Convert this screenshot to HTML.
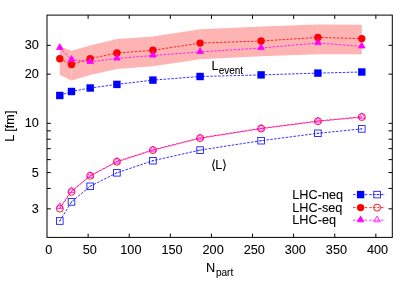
<!DOCTYPE html><html><head><meta charset="utf-8"><style>html,body{margin:0;padding:0;background:#fff}svg{display:block;will-change:transform}text{font-family:"Liberation Sans",sans-serif;font-size:12.7px;fill:#000;stroke:#000;stroke-width:0.08px}.sym{font-family:"DejaVu Sans","Liberation Sans",sans-serif}</style></head><body>
<svg width="415" height="291" viewBox="0 0 415 291">
<rect width="415" height="291" fill="#fff"/>
<polygon points="59.8,46.4 71.5,50.7 90.2,45.6 116.9,39.0 152.9,36.6 200.1,29.2 261.1,26.5 317.9,24.4 361.8,24.8 361.8,54.3 317.9,54.3 261.1,56.2 200.1,59.3 152.9,66.2 116.9,69.1 90.2,75.1 71.5,80.5 59.8,75.0" fill="#ffb4b4"/>
<line x1="71.5" y1="51.2" x2="71.5" y2="80.0" stroke="#ffc6c6" stroke-width="0.7"/>
<line x1="90.2" y1="46.1" x2="90.2" y2="74.6" stroke="#ffc6c6" stroke-width="0.7"/>
<line x1="116.9" y1="39.5" x2="116.9" y2="68.6" stroke="#ffc6c6" stroke-width="0.7"/>
<line x1="152.9" y1="37.1" x2="152.9" y2="65.7" stroke="#ffc6c6" stroke-width="0.7"/>
<line x1="200.1" y1="29.7" x2="200.1" y2="58.8" stroke="#ffc6c6" stroke-width="0.7"/>
<line x1="261.1" y1="27.0" x2="261.1" y2="55.7" stroke="#ffc6c6" stroke-width="0.7"/>
<line x1="317.9" y1="24.9" x2="317.9" y2="53.8" stroke="#ffc6c6" stroke-width="0.7"/>
<polyline points="59.8,95.5 71.5,91.5 90.2,88.0 116.9,84.4 152.9,80.1 200.1,76.5 261.1,74.9 317.9,73.1 361.8,72.0" fill="none" stroke="#0000ff" stroke-width="0.8" stroke-dasharray="2.5 1.4" stroke-dashoffset="0"/>
<polyline points="59.8,58.7 71.5,64.6 90.2,58.6 116.9,53.0 152.9,50.3 200.1,43.1 261.1,41.0 317.9,37.4 361.8,38.6" fill="none" stroke="#ff0000" stroke-width="0.8" stroke-dasharray="2.5 1.4" stroke-dashoffset="0"/>
<polyline points="59.8,47.9 71.5,59.6 90.2,61.9 116.9,58.5 152.9,55.5 200.1,51.9 261.1,48.0 317.9,43.0 361.8,46.4" fill="none" stroke="#ff00ff" stroke-width="0.8" stroke-dasharray="2.5 1.4" stroke-dashoffset="0"/>
<polyline points="59.8,221.0 71.5,201.9 90.2,186.3 116.9,172.8 152.9,160.7 200.1,150.1 261.1,140.7 317.9,133.3 361.8,128.9" fill="none" stroke="#0000ff" stroke-width="0.8" stroke-dasharray="2.5 1.4" stroke-dashoffset="0"/>
<polyline points="59.8,208.4 71.5,191.7 90.2,175.7 116.9,161.5 152.9,149.9 200.1,137.9 261.1,128.3 317.9,121.0 361.8,116.8" fill="none" stroke="#ff0000" stroke-width="0.85" stroke-dasharray="2.4 1.5" stroke-dashoffset="0"/>
<polyline points="59.8,207.0 71.5,191.1 90.2,176.0 116.9,161.9 152.9,150.3 200.1,138.3 261.1,128.7 317.9,121.4 361.8,117.2" fill="none" stroke="#ff00ff" stroke-width="0.85" stroke-dasharray="2.4 1.5" stroke-dashoffset="3.2572234774275417"/>
<rect x="56.10" y="91.80" width="7.40" height="7.40" fill="#0000ff"/>
<rect x="67.80" y="87.80" width="7.40" height="7.40" fill="#0000ff"/>
<rect x="86.50" y="84.30" width="7.40" height="7.40" fill="#0000ff"/>
<rect x="113.20" y="80.70" width="7.40" height="7.40" fill="#0000ff"/>
<rect x="149.20" y="76.40" width="7.40" height="7.40" fill="#0000ff"/>
<rect x="196.40" y="72.80" width="7.40" height="7.40" fill="#0000ff"/>
<rect x="257.40" y="71.20" width="7.40" height="7.40" fill="#0000ff"/>
<rect x="314.20" y="69.40" width="7.40" height="7.40" fill="#0000ff"/>
<rect x="358.10" y="68.30" width="7.40" height="7.40" fill="#0000ff"/>
<circle cx="59.80" cy="58.70" r="3.70" fill="#ff0000"/>
<circle cx="71.50" cy="64.60" r="3.70" fill="#ff0000"/>
<circle cx="90.20" cy="58.60" r="3.70" fill="#ff0000"/>
<circle cx="116.90" cy="53.00" r="3.70" fill="#ff0000"/>
<circle cx="152.90" cy="50.30" r="3.70" fill="#ff0000"/>
<circle cx="200.10" cy="43.10" r="3.70" fill="#ff0000"/>
<circle cx="261.10" cy="41.00" r="3.70" fill="#ff0000"/>
<circle cx="317.90" cy="37.40" r="3.70" fill="#ff0000"/>
<circle cx="361.80" cy="38.60" r="3.70" fill="#ff0000"/>
<polygon points="59.80,43.73 56.50,49.50 63.10,49.50" fill="#ff00ff" stroke="#ff00ff" stroke-width="0.8" stroke-linejoin="miter"/>
<polygon points="71.50,55.52 68.20,61.30 74.80,61.30" fill="#ff00ff" stroke="#ff00ff" stroke-width="0.8" stroke-linejoin="miter"/>
<polygon points="90.20,57.73 86.90,63.50 93.50,63.50" fill="#ff00ff" stroke="#ff00ff" stroke-width="0.8" stroke-linejoin="miter"/>
<polygon points="116.90,54.33 113.60,60.10 120.20,60.10" fill="#ff00ff" stroke="#ff00ff" stroke-width="0.8" stroke-linejoin="miter"/>
<polygon points="152.90,51.33 149.60,57.10 156.20,57.10" fill="#ff00ff" stroke="#ff00ff" stroke-width="0.8" stroke-linejoin="miter"/>
<polygon points="200.10,47.73 196.80,53.50 203.40,53.50" fill="#ff00ff" stroke="#ff00ff" stroke-width="0.8" stroke-linejoin="miter"/>
<polygon points="261.10,43.83 257.80,49.60 264.40,49.60" fill="#ff00ff" stroke="#ff00ff" stroke-width="0.8" stroke-linejoin="miter"/>
<polygon points="317.90,38.83 314.60,44.60 321.20,44.60" fill="#ff00ff" stroke="#ff00ff" stroke-width="0.8" stroke-linejoin="miter"/>
<polygon points="361.80,42.23 358.50,48.00 365.10,48.00" fill="#ff00ff" stroke="#ff00ff" stroke-width="0.8" stroke-linejoin="miter"/>
<rect x="56.50" y="217.70" width="6.60" height="6.60" fill="none" stroke="#0000ff" stroke-width="0.8"/>
<rect x="59.30" y="220.50" width="1" height="1" fill="#0000ff"/>
<rect x="68.20" y="198.60" width="6.60" height="6.60" fill="none" stroke="#0000ff" stroke-width="0.8"/>
<rect x="71.00" y="201.40" width="1" height="1" fill="#0000ff"/>
<rect x="86.90" y="183.00" width="6.60" height="6.60" fill="none" stroke="#0000ff" stroke-width="0.8"/>
<rect x="89.70" y="185.80" width="1" height="1" fill="#0000ff"/>
<rect x="113.60" y="169.50" width="6.60" height="6.60" fill="none" stroke="#0000ff" stroke-width="0.8"/>
<rect x="116.40" y="172.30" width="1" height="1" fill="#0000ff"/>
<rect x="149.60" y="157.40" width="6.60" height="6.60" fill="none" stroke="#0000ff" stroke-width="0.8"/>
<rect x="152.40" y="160.20" width="1" height="1" fill="#0000ff"/>
<rect x="196.80" y="146.80" width="6.60" height="6.60" fill="none" stroke="#0000ff" stroke-width="0.8"/>
<rect x="199.60" y="149.60" width="1" height="1" fill="#0000ff"/>
<rect x="257.80" y="137.40" width="6.60" height="6.60" fill="none" stroke="#0000ff" stroke-width="0.8"/>
<rect x="260.60" y="140.20" width="1" height="1" fill="#0000ff"/>
<rect x="314.60" y="130.00" width="6.60" height="6.60" fill="none" stroke="#0000ff" stroke-width="0.8"/>
<rect x="317.40" y="132.80" width="1" height="1" fill="#0000ff"/>
<rect x="358.50" y="125.60" width="6.60" height="6.60" fill="none" stroke="#0000ff" stroke-width="0.8"/>
<rect x="361.30" y="128.40" width="1" height="1" fill="#0000ff"/>
<circle cx="59.80" cy="208.60" r="3.50" fill="none" stroke="#ff0000" stroke-width="0.9"/>
<circle cx="71.50" cy="191.80" r="3.50" fill="none" stroke="#ff0000" stroke-width="0.9"/>
<circle cx="90.20" cy="175.80" r="3.50" fill="none" stroke="#ff0000" stroke-width="0.9"/>
<circle cx="116.90" cy="161.70" r="3.50" fill="none" stroke="#ff0000" stroke-width="0.9"/>
<circle cx="152.90" cy="150.10" r="3.50" fill="none" stroke="#ff0000" stroke-width="0.9"/>
<circle cx="200.10" cy="138.10" r="3.50" fill="none" stroke="#ff0000" stroke-width="0.9"/>
<circle cx="261.10" cy="128.50" r="3.50" fill="none" stroke="#ff0000" stroke-width="0.9"/>
<circle cx="317.90" cy="121.20" r="3.50" fill="none" stroke="#ff0000" stroke-width="0.9"/>
<circle cx="361.80" cy="117.00" r="3.50" fill="none" stroke="#ff0000" stroke-width="0.9"/>
<polygon points="59.80,202.68 56.50,208.45 63.10,208.45" fill="none" stroke="#ff00ff" stroke-width="0.8"/>
<rect x="59.30" y="206.30" width="1" height="1" fill="#ff00ff"/>
<polygon points="71.50,186.78 68.20,192.55 74.80,192.55" fill="none" stroke="#ff00ff" stroke-width="0.8"/>
<rect x="71.00" y="190.40" width="1" height="1" fill="#ff00ff"/>
<polygon points="90.20,171.68 86.90,177.45 93.50,177.45" fill="none" stroke="#ff00ff" stroke-width="0.8"/>
<rect x="89.70" y="175.30" width="1" height="1" fill="#ff00ff"/>
<polygon points="116.90,157.57 113.60,163.35 120.20,163.35" fill="none" stroke="#ff00ff" stroke-width="0.8"/>
<rect x="116.40" y="161.20" width="1" height="1" fill="#ff00ff"/>
<polygon points="152.90,145.97 149.60,151.75 156.20,151.75" fill="none" stroke="#ff00ff" stroke-width="0.8"/>
<rect x="152.40" y="149.60" width="1" height="1" fill="#ff00ff"/>
<polygon points="200.10,133.97 196.80,139.75 203.40,139.75" fill="none" stroke="#ff00ff" stroke-width="0.8"/>
<rect x="199.60" y="137.60" width="1" height="1" fill="#ff00ff"/>
<polygon points="261.10,124.38 257.80,130.15 264.40,130.15" fill="none" stroke="#ff00ff" stroke-width="0.8"/>
<rect x="260.60" y="128.00" width="1" height="1" fill="#ff00ff"/>
<polygon points="317.90,117.08 314.60,122.85 321.20,122.85" fill="none" stroke="#ff00ff" stroke-width="0.8"/>
<rect x="317.40" y="120.70" width="1" height="1" fill="#ff00ff"/>
<polygon points="361.80,112.88 358.50,118.65 365.10,118.65" fill="none" stroke="#ff00ff" stroke-width="0.8"/>
<rect x="361.30" y="116.50" width="1" height="1" fill="#ff00ff"/>
<line x1="353" y1="194.6" x2="368.5" y2="194.6" stroke="#0000ff" stroke-width="0.8" stroke-dasharray="2.5 1.4"/>
<line x1="369.3" y1="194.6" x2="385.2" y2="194.6" stroke="#0000ff" stroke-width="0.8" stroke-dasharray="2.5 1.4"/>
<rect x="356.90" y="190.90" width="7.40" height="7.40" fill="#0000ff"/>
<rect x="373.80" y="191.30" width="6.60" height="6.60" fill="none" stroke="#0000ff" stroke-width="0.8"/>
<rect x="376.60" y="194.10" width="1" height="1" fill="#0000ff"/>
<line x1="353" y1="207.6" x2="368.5" y2="207.6" stroke="#ff0000" stroke-width="0.8" stroke-dasharray="2.5 1.4"/>
<line x1="369.3" y1="207.6" x2="385.2" y2="207.6" stroke="#ff0000" stroke-width="0.8" stroke-dasharray="2.5 1.4"/>
<circle cx="360.60" cy="207.60" r="3.70" fill="#ff0000"/>
<circle cx="377.10" cy="207.60" r="3.50" fill="none" stroke="#ff0000" stroke-width="0.9"/>
<line x1="353" y1="220.2" x2="368.5" y2="220.2" stroke="#ff00ff" stroke-width="0.8" stroke-dasharray="2.5 1.4"/>
<line x1="369.3" y1="220.2" x2="385.2" y2="220.2" stroke="#ff00ff" stroke-width="0.8" stroke-dasharray="2.5 1.4"/>
<polygon points="360.60,216.07 357.30,221.85 363.90,221.85" fill="#ff00ff" stroke="#ff00ff" stroke-width="0.8" stroke-linejoin="miter"/>
<polygon points="377.10,216.07 373.80,221.85 380.40,221.85" fill="none" stroke="#ff00ff" stroke-width="0.8"/>
<rect x="376.60" y="219.70" width="1" height="1" fill="#ff00ff"/>
<text x="292.3" y="199.1">LHC-neq</text>
<text x="292.3" y="211.7">LHC-seq</text>
<text x="292.3" y="224.2">LHC-eq</text>
<text x="48.70" y="254.4" text-anchor="middle">0</text>
<line x1="88.11" y1="237.4" x2="88.11" y2="233.6" stroke="#000" stroke-width="1"/>
<line x1="88.11" y1="15.1" x2="88.11" y2="18.9" stroke="#000" stroke-width="1"/>
<text x="89.81" y="254.4" text-anchor="middle">50</text>
<line x1="129.21" y1="237.4" x2="129.21" y2="233.6" stroke="#000" stroke-width="1"/>
<line x1="129.21" y1="15.1" x2="129.21" y2="18.9" stroke="#000" stroke-width="1"/>
<text x="130.91" y="254.4" text-anchor="middle">100</text>
<line x1="170.32" y1="237.4" x2="170.32" y2="233.6" stroke="#000" stroke-width="1"/>
<line x1="170.32" y1="15.1" x2="170.32" y2="18.9" stroke="#000" stroke-width="1"/>
<text x="172.02" y="254.4" text-anchor="middle">150</text>
<line x1="211.43" y1="237.4" x2="211.43" y2="233.6" stroke="#000" stroke-width="1"/>
<line x1="211.43" y1="15.1" x2="211.43" y2="18.9" stroke="#000" stroke-width="1"/>
<text x="213.13" y="254.4" text-anchor="middle">200</text>
<line x1="252.54" y1="237.4" x2="252.54" y2="233.6" stroke="#000" stroke-width="1"/>
<line x1="252.54" y1="15.1" x2="252.54" y2="18.9" stroke="#000" stroke-width="1"/>
<text x="254.24" y="254.4" text-anchor="middle">250</text>
<line x1="293.64" y1="237.4" x2="293.64" y2="233.6" stroke="#000" stroke-width="1"/>
<line x1="293.64" y1="15.1" x2="293.64" y2="18.9" stroke="#000" stroke-width="1"/>
<text x="295.34" y="254.4" text-anchor="middle">300</text>
<line x1="334.75" y1="237.4" x2="334.75" y2="233.6" stroke="#000" stroke-width="1"/>
<line x1="334.75" y1="15.1" x2="334.75" y2="18.9" stroke="#000" stroke-width="1"/>
<text x="336.45" y="254.4" text-anchor="middle">350</text>
<line x1="375.86" y1="237.4" x2="375.86" y2="233.6" stroke="#000" stroke-width="1"/>
<line x1="375.86" y1="15.1" x2="375.86" y2="18.9" stroke="#000" stroke-width="1"/>
<text x="377.56" y="254.4" text-anchor="middle">400</text>
<line x1="47.0" y1="208.84" x2="50.8" y2="208.84" stroke="#000" stroke-width="1"/>
<line x1="392.3" y1="208.84" x2="388.5" y2="208.84" stroke="#000" stroke-width="1"/>
<text x="38.9" y="212.94" text-anchor="end">3</text>
<line x1="47.0" y1="188.41" x2="50.8" y2="188.41" stroke="#000" stroke-width="1"/>
<line x1="392.3" y1="188.41" x2="388.5" y2="188.41" stroke="#000" stroke-width="1"/>
<line x1="47.0" y1="172.57" x2="50.8" y2="172.57" stroke="#000" stroke-width="1"/>
<line x1="392.3" y1="172.57" x2="388.5" y2="172.57" stroke="#000" stroke-width="1"/>
<text x="38.9" y="176.67" text-anchor="end">5</text>
<line x1="47.0" y1="159.62" x2="50.8" y2="159.62" stroke="#000" stroke-width="1"/>
<line x1="392.3" y1="159.62" x2="388.5" y2="159.62" stroke="#000" stroke-width="1"/>
<line x1="47.0" y1="148.68" x2="50.8" y2="148.68" stroke="#000" stroke-width="1"/>
<line x1="392.3" y1="148.68" x2="388.5" y2="148.68" stroke="#000" stroke-width="1"/>
<line x1="47.0" y1="139.19" x2="50.8" y2="139.19" stroke="#000" stroke-width="1"/>
<line x1="392.3" y1="139.19" x2="388.5" y2="139.19" stroke="#000" stroke-width="1"/>
<line x1="47.0" y1="130.83" x2="50.8" y2="130.83" stroke="#000" stroke-width="1"/>
<line x1="392.3" y1="130.83" x2="388.5" y2="130.83" stroke="#000" stroke-width="1"/>
<line x1="47.0" y1="123.35" x2="50.8" y2="123.35" stroke="#000" stroke-width="1"/>
<line x1="392.3" y1="123.35" x2="388.5" y2="123.35" stroke="#000" stroke-width="1"/>
<text x="38.9" y="127.45" text-anchor="end">10</text>
<line x1="47.0" y1="74.13" x2="50.8" y2="74.13" stroke="#000" stroke-width="1"/>
<line x1="392.3" y1="74.13" x2="388.5" y2="74.13" stroke="#000" stroke-width="1"/>
<text x="38.9" y="78.23" text-anchor="end">20</text>
<line x1="47.0" y1="45.34" x2="50.8" y2="45.34" stroke="#000" stroke-width="1"/>
<line x1="392.3" y1="45.34" x2="388.5" y2="45.34" stroke="#000" stroke-width="1"/>
<text x="38.9" y="49.44" text-anchor="end">30</text>
<rect x="47.0" y="15.1" width="345.3" height="222.3" fill="none" stroke="#000" stroke-width="1"/>
<text x="211.6" y="70.3">L<tspan font-size="10px" dy="4.1">event</tspan></text>
<text x="210.9" y="168.9"><tspan class="sym">⟨</tspan><tspan dx="-0.7">L</tspan><tspan class="sym" dx="-0.2">⟩</tspan></text>
<text x="206.1" y="272.2">N<tspan font-size="10px" dy="4.1" dx="0.7">part</tspan></text>
<text transform="translate(13.8,141.8) rotate(-90)">L [fm]</text>
</svg></body></html>
